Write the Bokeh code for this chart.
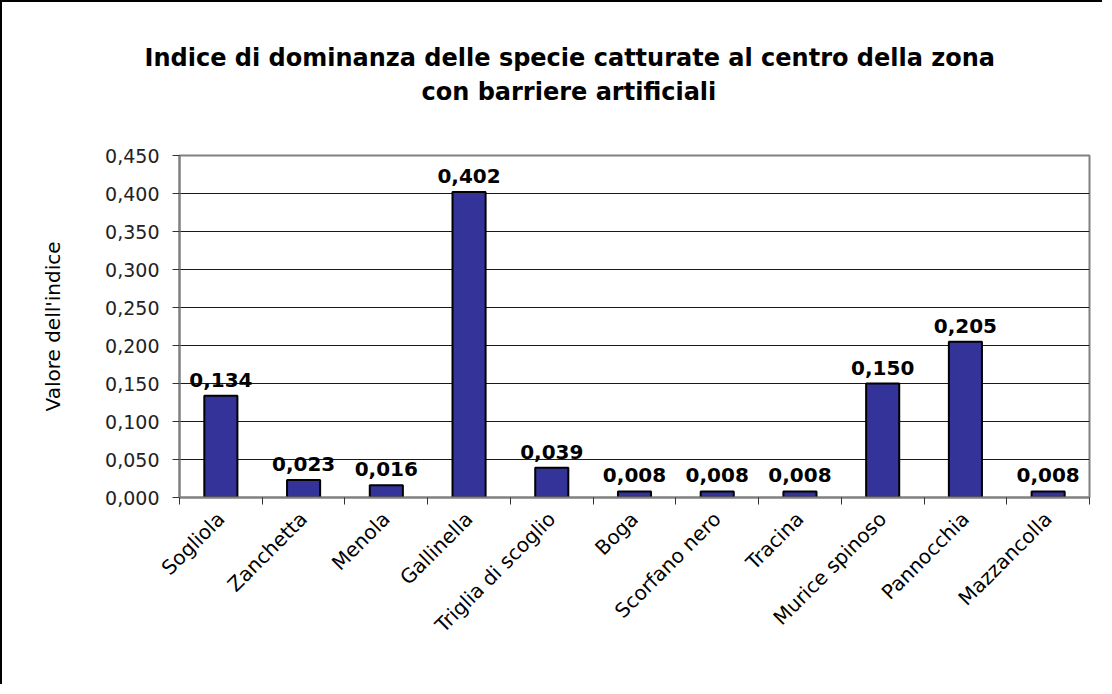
import math
from bokeh.plotting import figure
from bokeh.models import ColumnDataSource, FixedTicker, CustomJSTickFormatter, Title
from bokeh.core.properties import value
from bokeh.embed import file_html
from bokeh.resources import INLINE

species = ["Sogliola", "Zanchetta", "Menola", "Gallinella", "Triglia di scoglio",
           "Boga", "Scorfano nero", "Tracina", "Murice spinoso", "Pannocchia", "Mazzancolla"]
values = [0.134, 0.023, 0.016, 0.402, 0.039, 0.008, 0.008, 0.008, 0.150, 0.205, 0.008]
y_ticks = [0.0, 0.05, 0.10, 0.15, 0.20, 0.25, 0.30, 0.35, 0.40, 0.45]
title_lines = ["Indice di dominanza delle specie catturate al centro della zona",
               "con barriere artificiali"]
y_label = "Valore dell'indice"

FONT = "DejaVu Sans"

centers = [i + 0.5 for i in range(len(species))]
bounds = [float(i) for i in range(len(species) + 1)]
labels = [("%.3f" % v).replace(".", ",") for v in values]

src = ColumnDataSource(dict(x=centers, v=values, lab=labels))

p = figure(width=1102, height=684, x_range=(0, len(species)), y_range=(0, 0.45),
           output_backend="svg", toolbar_location=None,
           min_border_left=177, min_border_right=15, min_border_top=153, min_border_bottom=189)
p.styles = {"border-left": "2px solid black", "border-top": "2px solid black"}

p.outline_line_color = "#808080"
p.outline_line_width = 2
p.background_fill_color = "white"
p.border_fill_color = "white"

p.xgrid.visible = False
p.ygrid.ticker = FixedTicker(ticks=y_ticks)
p.ygrid.grid_line_color = "#1a1a1a"
p.ygrid.grid_line_width = 1

# title: two lines, centred on the chart area (left of the frame centre)
p.title.visible = False
# spacer between frame and title
p.add_layout(Title(text=" ", standoff=47, text_font_size="1px", text_color="white"), "above")
for text, offset, standoff in [(title_lines[1], 242, 0), (title_lines[0], -35, 8)]:
    p.add_layout(Title(text=text, align="left", offset=offset, standoff=standoff,
                       text_font=FONT, text_font_size="24px", text_font_style="bold",
                       text_color="black"), "above")

# y axis
ya = p.yaxis[0]
ya.ticker = FixedTicker(ticks=y_ticks)
ya.formatter = CustomJSTickFormatter(code="return tick.toFixed(3).replace('.', ',');")
ya.axis_label = y_label
ya.axis_label_text_font = FONT
ya.axis_label_text_font_size = "20px"
ya.axis_label_text_font_style = "normal"
ya.axis_label_text_color = "black"
ya.axis_label_standoff = 37
ya.major_label_text_font = FONT
ya.major_label_text_font_size = "19px"
ya.major_label_text_color = "#222222"
ya.major_label_standoff = 13
ya.major_tick_out = 7
ya.major_tick_in = 0
ya.major_tick_line_color = "#333333"
ya.minor_tick_line_color = None
ya.axis_line_color = "#808080"
ya.axis_line_width = 2

# x axis
xa = p.xaxis[0]
xa.ticker = FixedTicker(ticks=centers, minor_ticks=bounds)
xa.formatter = CustomJSTickFormatter(args=dict(names=species),
                                     code="return names[Math.floor(tick)];")
xa.major_tick_line_color = None
xa.major_tick_out = 0
xa.major_tick_in = 0
xa.minor_tick_out = 7
xa.minor_tick_in = 0
xa.minor_tick_line_color = "#333333"
xa.minor_tick_line_width = 1
xa.axis_line_color = "#808080"
xa.axis_line_width = 2
xa.major_label_orientation = math.pi / 4
xa.major_label_text_font = FONT
xa.major_label_text_font_size = "20px"
xa.major_label_text_color = "black"
xa.major_label_standoff = 11

p.vbar(x="x", top="v", width=0.4, bottom=0, source=src,
       fill_color="#333399", line_color="black", line_width=2)

p.text(x="x", y="v", text="lab", source=src, text_align="center",
       text_baseline="alphabetic", y_offset=-16,
       text_font=value(FONT), text_font_style="bold", text_font_size="20px",
       text_color="black")

open("out.html", "w").write(file_html(p, INLINE))
